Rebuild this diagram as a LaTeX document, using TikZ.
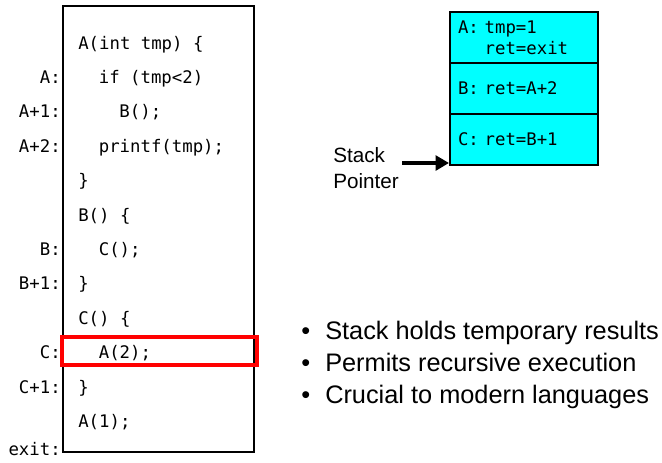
\documentclass[tikz,border=0pt]{standalone}
\usepackage{fontspec}
\setmainfont{Liberation Sans}
\newfontfamily\codefont{DejaVu Sans Mono}
\usetikzlibrary{arrows.meta}
\definecolor{stackcyan}{RGB}{0,255,255}
\definecolor{hlred}{RGB}{255,0,0}
\begin{document}
\begin{tikzpicture}[x=0.75pt,y=-0.75pt,
  code/.style={font=\codefont\fontsize{13}{15}\selectfont, inner sep=0pt, text height=9pt, text depth=0pt, anchor=west},
  lbl/.style={code, anchor=east},
  cell/.style={draw=black, line width=1.5pt, fill=stackcyan, minimum height=38.25pt, text width=99pt, inner xsep=6pt, inner ysep=0pt, align=left, font=\codefont\fontsize{13}{15.75}\selectfont},
  sans/.style={font=\fontsize{15.5}{19.5}\selectfont, inner sep=0pt},
  bullet/.style={font=\fontsize{19}{24}\selectfont, inner sep=0pt, anchor=west, text height=12pt, text depth=0pt},
  ptr/.style={line width=3.5pt, -{Triangle[length=10pt,width=11pt]}}
]
\useasboundingbox (0,0) rectangle (662,462);

% code box
\draw[line width=1.5pt] (63,6) rectangle (254,452);

% code lines
\node[code] (l0)  at (78, {43+34.4*0})  {A(int tmp) \{};
\node[code] (l1)  at (98.6, {43+34.4*1})  {if (tmp<2)};
\node[code] (l2)  at (119.2, {43+34.4*2})  {B();};
\node[code] (l3)  at (98.6, {43+34.4*3})  {printf(tmp);};
\node[code] (l4)  at (78, {43+34.4*4})  {\}};
\node[code] (l5)  at (78, {43+34.4*5})  {B() \{};
\node[code] (l6)  at (98.6, {43+34.4*6})  {C();};
\node[code] (l7)  at (78, {43+34.4*7})  {\}};
\node[code] (l8)  at (78, {43+34.4*8})  {C() \{};
\node[code] (l9)  at (98.6, {43+34.4*9})  {A(2);};
\node[code] (l10) at (78, {43+34.4*10}) {\}};
\node[code] (l11) at (78, {43+34.4*11}) {A(1);};

% address labels
\node[lbl] (aA)  at (61, {43+34.4*1})  {A:};
\node[lbl] (aA1) at (61, {43+34.4*2})  {A+1:};
\node[lbl] (aA2) at (61, {43+34.4*3})  {A+2:};
\node[lbl] (aB)  at (61, {43+34.4*6})  {B:};
\node[lbl] (aB1) at (61, {43+34.4*7})  {B+1:};
\node[lbl] (aC)  at (61, {43+34.4*9})  {C:};
\node[lbl] (aC1) at (61, {43+34.4*10}) {C+1:};
\node[lbl] (aex) at (61, 449) {exit:};

% highlight
\node[draw=hlred, line width=3pt, minimum width=146pt, minimum height=21pt, inner sep=0pt] (hl) at (159.5,350.5) {};

% stack
\node[cell] (sa) at (524,37.5) {A:\hphantom{ }tmp=1\\\hphantom{A: }ret=exit};
\node[cell] (sb) at (524,88.5) {B:\hphantom{ }ret=A+2};
\node[cell] (sc) at (524,139.5) {C:\hphantom{ }ret=B+1};

% stack pointer
\node[sans, anchor=west, align=left] (sp) at (333,168) {Stack\\Pointer};
\coordinate (spt) at (402,163);
\draw[ptr] (spt) -- (spt -| sc.west);

% bullets
\node[bullet] (b1) at (301,331) {\makebox[18pt][l]{•}Stack holds temporary results};
\node[bullet] (b2) at (301,363) {\makebox[18pt][l]{•}Permits recursive execution};
\node[bullet] (b3) at (301,395) {\makebox[18pt][l]{•}Crucial to modern languages};
\end{tikzpicture}
\end{document}
